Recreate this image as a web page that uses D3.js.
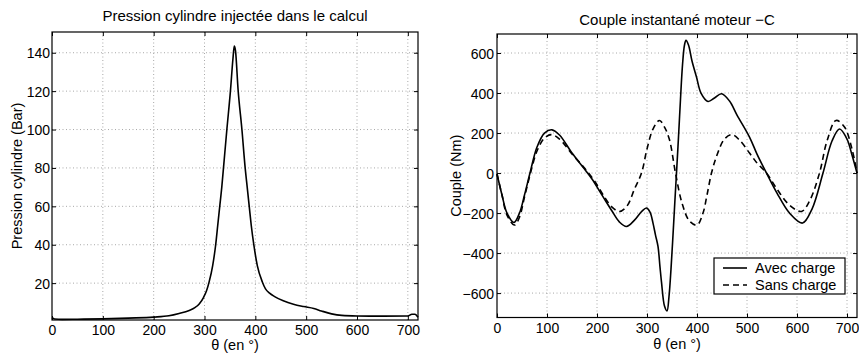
<!DOCTYPE html>
<html><head><meta charset="utf-8">
<script src="https://cdn.jsdelivr.net/npm/d3@7"></script>
<style>
html,body{margin:0;padding:0;background:#fff;}
svg{display:block;font-family:"Liberation Sans",Arial,Helvetica,sans-serif;}
</style></head>
<body>
<svg id="c" width="859" height="356"></svg>
<script>
// ---------- data ----------
const thetaTicks = [0, 100, 200, 300, 400, 500, 600, 700];
const pressureTicks = [20, 40, 60, 80, 100, 120, 140];
const torqueTicks = [-600, -400, -200, 0, 200, 400, 600];

const pressureTheta = [0, 5, 20, 50, 100, 150, 200, 230, 250, 270, 281, 290, 298, 304, 309, 316, 322, 326, 330, 334, 338, 344, 351, 356, 358.5, 361, 366, 373.6, 380, 384, 388, 392, 397, 404, 414, 420, 428, 438, 455, 475, 495, 515, 530, 550, 570, 600, 650, 700, 708, 714, 720];
const pressureBar   = [2.0, 1.3, 1.1, 1.2, 1.4, 1.8, 2.3, 3.0, 4.2, 5.8, 7.2, 9.3, 12.5, 16, 20.5, 29, 40, 50, 60, 70, 82, 100, 120, 137, 143.5, 141, 121, 100, 80, 70, 60, 50, 40, 29, 20.5, 17, 14.8, 13, 10.8, 9, 7.8, 6.8, 5.5, 4.0, 3.2, 2.9, 2.8, 2.9, 3.8, 3.8, 2.2];

const avecTheta = [0, 10, 20, 34, 45, 55, 66, 80, 95, 110, 125, 150, 175, 190, 210, 230, 245, 259, 275, 290, 299, 306, 312, 317, 322, 326, 329, 335, 340, 344, 348, 352, 356, 359, 363, 367, 371, 375, 378, 383, 390, 399, 408, 422, 435, 449, 465, 480, 505, 520, 539, 560, 585, 611, 630, 652, 670, 685, 700, 710, 720];
const avecTorque = [-5, -110, -200, -247, -200, -110, 0, 130, 200, 216, 190, 100, 20, -30, -110, -190, -245, -267, -235, -190, -175, -195, -250, -310, -367, -470, -545, -665, -689, -617, -480, -310, -130, 0, 180, 370, 540, 640, 663, 640, 560, 480, 400, 358, 375, 396, 360, 290, 180, 95, 0, -100, -200, -250, -180, 0, 160, 220, 170, 90, 0];

const sansTheta = [0, 10, 20, 35, 45, 55, 67, 80, 95, 109, 125, 150, 175, 195, 215, 230, 245, 260, 275, 289, 300, 312, 325, 335, 345, 357, 370, 385, 400, 412, 420, 429, 440, 455, 470, 485, 505, 520, 539, 560, 585, 609, 625, 645, 660, 678, 695, 710, 720];
const sansTorque = [-5, -110, -210, -260, -220, -120, 0, 110, 175, 192, 170, 95, 25, -40, -120, -170, -192, -165, -80, 0, 120, 220, 263, 230, 166, 0, -150, -240, -260, -200, -110, 0, 90, 170, 192, 165, 100, 50, 0, -80, -160, -192, -140, 0, 160, 263, 230, 120, 0];

const seriesNames = ["Avec charge", "Sans charge"];

// ---------- drawing ----------
const svg = d3.select("#c");
const TICK_FS = 14;
const LABEL_FS = 14.5;

function panel(o) {
  const x = d3.scaleLinear().domain([0, 720]).range([o.left, o.right]);
  const y = d3.scaleLinear().domain(o.yDomain).range([o.bottom, o.top]);
  const g = svg.append("g");

  // grid
  g.append("g").selectAll("line").data(thetaTicks.filter(t => t > 0)).join("line")
    .attr("x1", d => x(d)).attr("x2", d => x(d))
    .attr("y1", o.top).attr("y2", o.bottom)
    .attr("stroke", "#a8a8a8").attr("stroke-width", 1).attr("stroke-dasharray", "1,2.5");
  g.append("g").selectAll("line").data(o.yTicks).join("line")
    .attr("x1", o.left).attr("x2", o.right)
    .attr("y1", d => y(d)).attr("y2", d => y(d))
    .attr("stroke", "#a8a8a8").attr("stroke-width", 1).attr("stroke-dasharray", "1,2.5");

  // axes (ticks inward)
  const ax = g.append("g").attr("transform", `translate(0,${o.bottom})`)
    .call(d3.axisBottom(x).tickValues(thetaTicks).tickSizeInner(-4).tickSizeOuter(0).tickPadding(o.xPad).tickFormat(d3.format("d")));
  const axT = g.append("g").attr("transform", `translate(0,${o.top})`)
    .call(d3.axisTop(x).tickValues(thetaTicks).tickSizeInner(-4).tickSizeOuter(0).tickFormat(""));
  const ay = g.append("g").attr("transform", `translate(${o.left},0)`)
    .call(d3.axisLeft(y).tickValues(o.yTicks).tickSizeInner(-4).tickSizeOuter(0).tickPadding(o.yPad)
      .tickFormat(d => d < 0 ? "\u2212" + Math.abs(d) : String(d)));
  const ayR = g.append("g").attr("transform", `translate(${o.right},0)`)
    .call(d3.axisRight(y).tickValues(o.yTicks).tickSizeInner(-4).tickSizeOuter(0).tickFormat(""));
  [ax, axT, ay, ayR].forEach(a => {
    a.select(".domain").remove();
    a.selectAll("line").attr("stroke", "#000");
    a.selectAll("text").attr("font-size", TICK_FS).attr("fill", "#000")
      .attr("font-family", '"Liberation Sans",Arial,sans-serif');
  });
  ax.selectAll("text").attr("dy", "0.71em");
  ay.selectAll("text").attr("dy", "0.36em");

  // curves
  o.series.forEach(s => {
    const pts = s.xs.map((t, i) => [t, s.ys[i]]);
    g.append("path").datum(pts)
      .attr("fill", "none").attr("stroke", "#000").attr("stroke-width", 1.6)
      .attr("stroke-dasharray", s.dash || null)
      .attr("d", d3.line().x(d => x(d[0])).y(d => y(d[1])).curve(o.curve)(pts));
  });

  // box
  g.append("rect").attr("x", o.left).attr("y", o.top)
    .attr("width", o.right - o.left).attr("height", o.bottom - o.top)
    .attr("fill", "none").attr("stroke", "#000").attr("stroke-width", 1.2);

  // texts
  const cx = (o.left + o.right) / 2;
  g.append("text").attr("x", cx).attr("y", o.titleY).attr("text-anchor", "middle")
    .attr("font-size", 15).text(o.title);
  g.append("text").attr("x", cx).attr("y", o.xLabelY).attr("text-anchor", "middle")
    .attr("font-size", LABEL_FS).text("\u03b8 (en \u00b0)");
  g.append("text").attr("transform", `translate(${o.yLabelX},${(o.top + o.bottom) / 2}) rotate(-90)`)
    .attr("text-anchor", "middle").attr("font-size", LABEL_FS).text(o.yLabel);
  return {x, y, g};
}

panel({
  left: 52, right: 418, top: 32, bottom: 320,
  yDomain: [0.8, 150.8], yTicks: pressureTicks, yPad: 2, xPad: 5,
  title: "Pression cylindre injectée dans le calcul", titleY: 20.5,
  xLabelY: 350, yLabelX: 21.5, yLabel: "Pression cylindre (Bar)",
  curve: d3.curveMonotoneX,
  series: [{xs: pressureTheta, ys: pressureBar}]
});

panel({
  left: 497, right: 857, top: 34, bottom: 317.5,
  yDomain: [-722, 695], yTicks: torqueTicks, yPad: 3, xPad: 5.5,
  title: "Couple instantané moteur \u2212C", titleY: 25,
  xLabelY: 348.5, yLabelX: 460.5, yLabel: "Couple (Nm)",
  curve: d3.curveCatmullRom.alpha(0.5),
  series: [{xs: avecTheta, ys: avecTorque}, {xs: sansTheta, ys: sansTorque, dash: "6,4"}]
});

// legend
const lg = svg.append("g");
lg.append("rect").attr("x", 714).attr("y", 258).attr("width", 131).attr("height", 36)
  .attr("fill", "#fff").attr("stroke", "#000").attr("stroke-width", 1.2);
seriesNames.forEach((n, i) => {
  const yy = 268 + i * 17;
  lg.append("line").attr("x1", 723).attr("x2", 747).attr("y1", yy).attr("y2", yy)
    .attr("stroke", "#000").attr("stroke-width", 1.6).attr("stroke-dasharray", i ? "6,4" : null);
  lg.append("text").attr("x", 755).attr("y", yy + 5).attr("font-size", LABEL_FS).text(n);
});
</script>
</body></html>
